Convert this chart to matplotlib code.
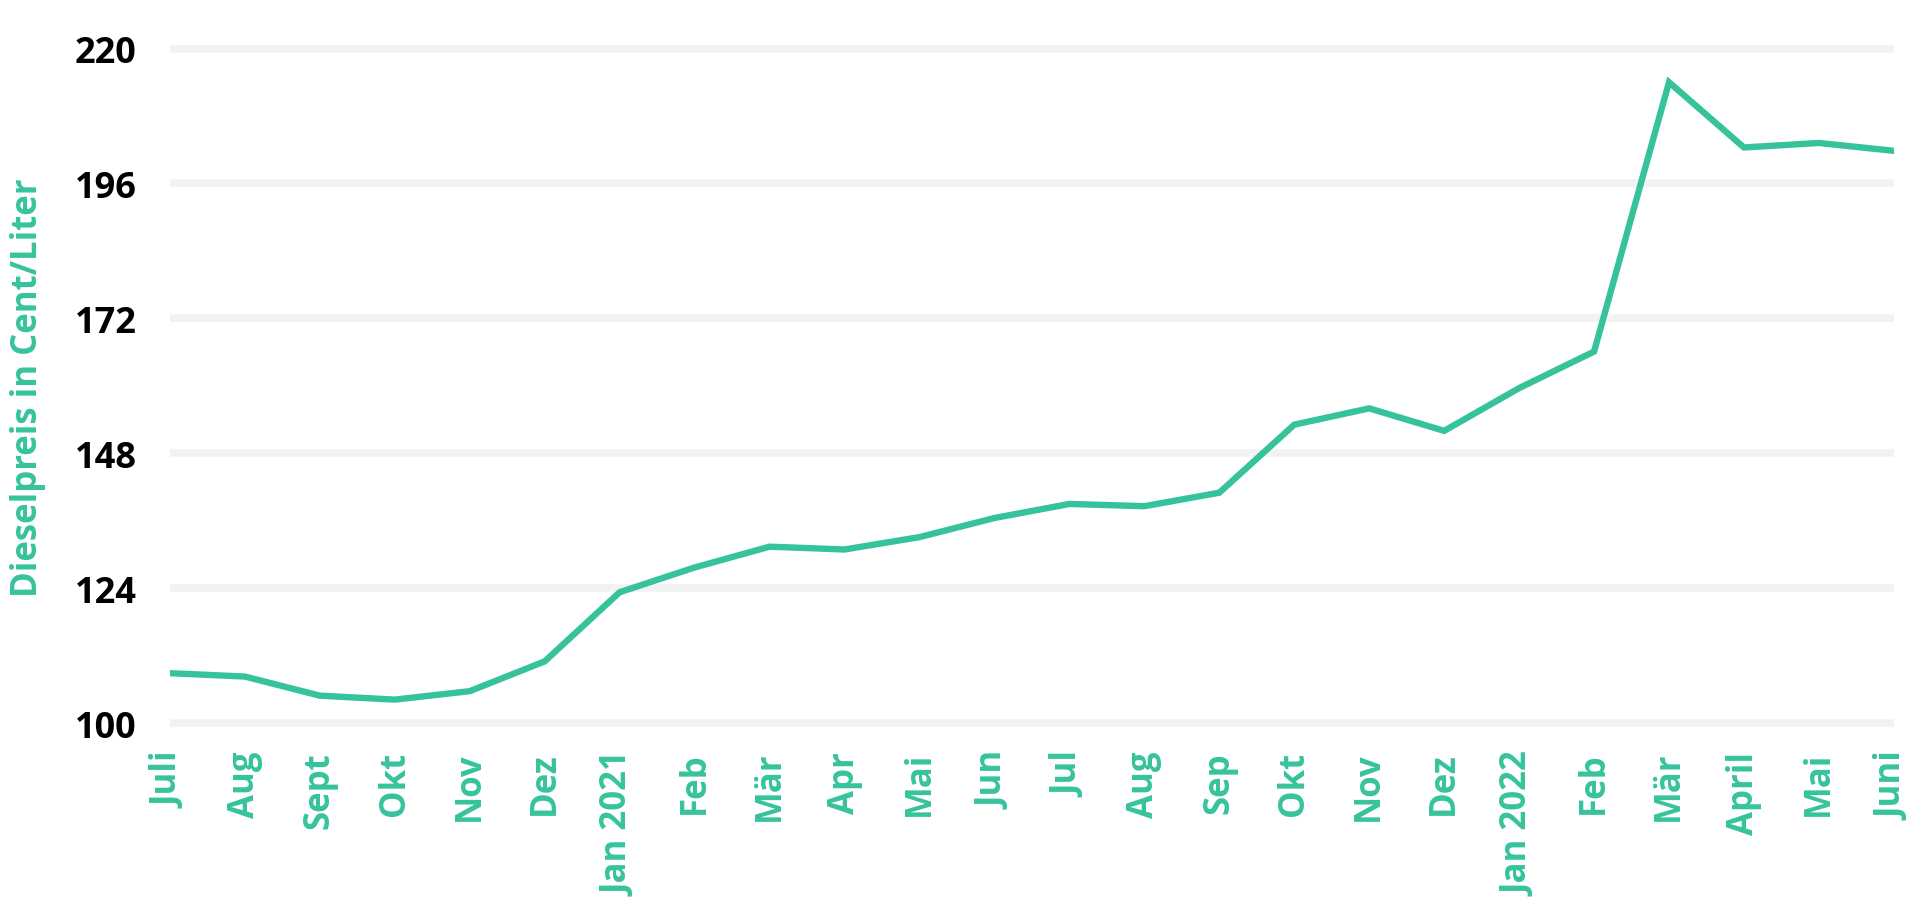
import numpy as np
import matplotlib.pyplot as plt

plt.rcParams['font.family'] = ['Open Sans', 'DejaVu Sans']
plt.rcParams['font.weight'] = 'bold'

# Dieselpreis, Juli 2020 bis Juni 2022
months = ['Juli', 'Aug', 'Sept', 'Okt', 'Nov', 'Dez', 'Jan 2021', 'Feb', 'Mär',
          'Apr', 'Mai', 'Jun', 'Jul', 'Aug', 'Sep', 'Okt', 'Nov', 'Dez',
          'Jan 2022', 'Feb', 'Mär', 'April', 'Mai', 'Juni']
price = [108.9, 108.3, 104.9, 104.2, 105.7, 111.0, 123.3, 127.7, 131.4,
         130.9, 133.1, 136.5, 139.0, 138.6, 141.0, 153.1, 156.0, 152.0,
         159.6, 166.1, 214.0, 202.4, 203.2, 201.8]
yticks = [100, 124, 148, 172, 196, 220]

green = '#36c39c'

fig = plt.figure(figsize=(19.2, 9.12), dpi=100)
ax = fig.add_axes([0.0885, 0.2059, 0.8979, 0.7398])

x = np.arange(len(months))
ax.plot(x, price, color=green, lw=4.6, solid_joinstyle='miter', zorder=3)

ax.set_xlim(0, len(months) - 1)
ax.set_ylim(100, 220)
ax.set_yticks(yticks)
ax.set_xticks(x)
ax.set_xticklabels(months, rotation=90, color=green, fontsize=25, fontweight='bold')
ax.set_yticklabels([str(t) for t in yticks], color='black', fontsize=26, fontweight='bold')
ax.tick_params(axis='x', length=0, pad=20)
ax.tick_params(axis='y', length=0, pad=24)

ax.grid(axis='y', color='#f2f2f2', lw=5.5, zorder=0)
ax.grid(axis='x', visible=False)
for gl in ax.yaxis.get_gridlines():
    gl.set_clip_on(False)
    gl.set_solid_capstyle('butt')
for s in ax.spines.values():
    s.set_visible(False)

fig.text(28 / 1920, 1 - 388 / 912, 'Dieselpreis in Cent/Liter', rotation=90,
         ha='center', va='center', color=green, fontsize=25, fontweight='bold')

fig.savefig('out.png', dpi=100, facecolor='white')
